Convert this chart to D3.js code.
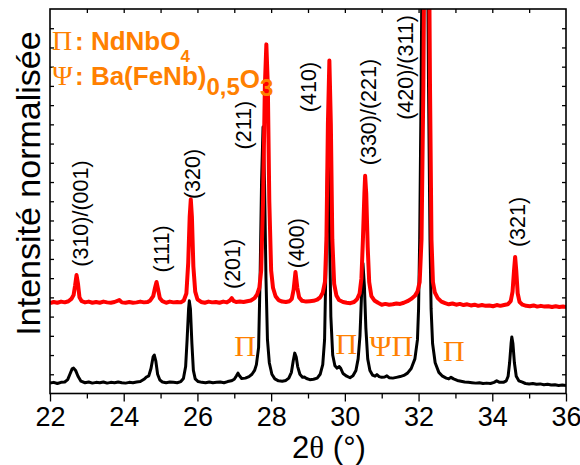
<!DOCTYPE html>
<html><head><meta charset="utf-8">
<script src="https://cdn.jsdelivr.net/npm/d3@7/dist/d3.min.js"></script>
<style>body{margin:0;background:#fff;} svg{display:block;}</style>
</head><body>
<svg id="chart" width="580" height="465"></svg>
<script>
// ---- data (2θ in degrees, normalised intensity incl. vertical offset) ----
const blackPattern = [
[22.00,2.7],[22.10,2.9],[22.20,2.6],[22.30,2.9],[22.40,3.0],[22.48,3.6],[22.54,5.0],[22.60,6.4],[22.64,6.6],[22.70,5.9],[22.76,4.5],[22.84,3.2],[22.95,2.8],
[23.05,3.0],[23.15,2.7],[23.25,2.9],[23.35,2.8],[23.45,3.0],[23.55,2.7],[23.65,2.9],[23.75,2.8],[23.85,3.0],[23.95,2.8],[24.05,2.7],[24.15,2.9],[24.25,2.8],[24.35,3.0],[24.45,3.1],
[24.55,3.7],[24.62,4.3],[24.68,4.6],[24.74,6.5],[24.80,9.6],[24.83,10.0],[24.87,8.5],[24.92,5.0],[24.98,3.5],[25.05,3.0],[25.15,2.8],[25.25,3.0],[25.35,2.9],[25.45,2.8],[25.55,3.1],
[25.62,3.9],[25.68,7.0],[25.72,14.0],[25.76,22.0],[25.78,24.1],[25.81,22.0],[25.85,13.0],[25.89,6.0],[25.94,3.8],[26.02,3.1],[26.12,2.9],[26.22,2.8],[26.32,3.0],[26.42,2.8],[26.52,2.9],
[26.62,3.0],[26.72,2.8],[26.82,3.1],[26.92,3.3],[27.00,3.7],[27.06,4.6],[27.10,5.3],[27.14,4.6],[27.20,3.9],[27.30,4.0],[27.40,4.4],[27.48,5.0],[27.55,6.0],
[27.60,7.5],[27.66,12],[27.70,30],[27.74,55],[27.78,69.3],[27.82,55],[27.86,30],[27.90,14],[27.95,8],[28.02,5.0],[28.10,3.8],[28.20,3.3],[28.30,3.2],[28.40,3.4],
[28.48,4.0],[28.55,5.5],[28.60,8.5],[28.64,10.5],[28.68,9.5],[28.72,7.0],[28.78,5.0],[28.85,4.2],[28.90,4.3],[28.96,3.9],[29.05,3.6],[29.15,3.7],[29.25,4.0],[29.33,5.0],
[29.40,7.5],[29.45,14],[29.50,40],[29.54,65.9],[29.58,45],[29.62,20],[29.67,10],[29.73,7.2],[29.79,6.6],[29.85,7.0],[29.89,6.5],[29.95,5.2],[30.05,4.5],[30.14,4.1],
[30.22,4.6],[30.30,6.0],[30.36,9.0],[30.41,15],[30.45,25],[30.49,33.9],[30.53,28],[30.57,17],[30.62,9],[30.68,6.0],[30.75,4.8],[30.82,4.5],[30.87,4.9],[30.93,4.4],
[31.00,4.2],[31.08,4.3],[31.14,4.6],[31.20,4.1],[31.30,4.0],[31.40,4.2],[31.50,4.4],[31.60,4.7],[31.70,5.3],[31.80,6.5],[31.90,9.0],[31.97,14],[32.00,22],[32.03,40],
[32.07,80],[32.12,150],[32.17,200],[32.22,150],[32.27,80],[32.31,40],[32.34,22],[32.38,13],[32.45,8],[32.55,5.5],[32.65,4.5],[32.75,4.0],[32.82,3.8],[32.88,4.2],
[32.95,3.8],[33.05,3.4],[33.15,3.2],[33.25,3.0],[33.35,2.9],[33.45,2.8],[33.55,2.7],[33.65,2.8],[33.75,2.6],[33.85,2.7],[33.95,2.6],[34.05,2.9],[34.12,3.3],[34.20,2.9],
[34.30,2.9],[34.38,3.3],[34.43,4.5],[34.47,8],[34.51,13],[34.53,14.7],[34.56,13],[34.60,8],[34.65,4.5],[34.72,3.3],[34.80,3.0],[34.90,2.6],[35.00,2.5],[35.10,2.6],
[35.20,2.4],[35.30,2.5],[35.40,2.3],[35.50,2.4],[35.60,2.2],[35.70,2.3],[35.80,2.1],[35.90,2.2],[36.00,2.1]
];
const redPattern = [
[22.00,23.5],[22.10,23.8],[22.20,23.6],[22.30,23.9],[22.40,23.7],[22.50,24.0],[22.58,24.6],[22.64,25.6],[22.68,28.0],[22.72,30.8],[22.76,28.5],[22.80,25.0],[22.86,24.0],
[22.95,23.7],[23.05,23.9],[23.15,23.6],[23.25,23.8],[23.35,23.6],[23.45,23.9],[23.55,23.7],[23.65,23.6],[23.75,23.8],[23.88,24.3],[23.95,23.7],[24.05,23.6],[24.15,23.8],
[24.25,23.6],[24.35,23.7],[24.45,23.9],[24.55,23.7],[24.65,23.8],[24.72,24.2],[24.80,25.3],[24.85,27.5],[24.89,29.0],[24.93,27.2],[24.98,24.8],[25.05,24.0],[25.15,23.6],
[25.25,23.9],[25.35,23.7],[25.45,23.8],[25.55,23.7],[25.63,24.2],[25.70,26],[25.75,34],[25.79,46],[25.82,50.5],[25.85,46],[25.89,33],[25.94,26.5],[26.00,24.5],[26.10,23.8],
[26.20,23.6],[26.30,23.9],[26.40,23.7],[26.50,23.8],[26.60,23.6],[26.70,23.9],[26.80,23.7],[26.88,24.2],[26.93,24.8],[26.98,24.1],[27.05,23.8],[27.15,23.9],[27.25,23.8],
[27.35,24.0],[27.45,24.2],[27.55,24.8],[27.62,25.8],[27.68,27.5],[27.73,32],[27.78,50],[27.83,80],[27.87,90.8],[27.91,80],[27.95,50],[28.00,32],[28.05,27.5],[28.12,25.3],
[28.20,24.3],[28.30,23.9],[28.40,23.8],[28.50,24.0],[28.56,24.6],[28.61,27],[28.66,31.6],[28.71,27.5],[28.76,25],[28.84,24.1],[28.95,23.9],[29.05,24.0],[29.15,24.1],
[29.25,24.4],[29.33,25.0],[29.40,26.2],[29.46,29],[29.50,40],[29.54,70],[29.58,86.6],[29.62,70],[29.66,40],[29.71,28.5],[29.77,25.5],[29.84,24.3],[29.95,23.8],[30.05,23.6],
[30.15,23.5],[30.25,23.8],[30.33,24.5],[30.40,26],[30.45,30],[30.49,40],[30.53,52],[30.55,56.6],[30.58,52],[30.62,38],[30.66,29],[30.72,25.3],[30.80,24.2],[30.90,23.6],
[31.00,23.1],[31.10,23.3],[31.20,23.1],[31.30,23.2],[31.40,23.4],[31.50,23.3],[31.60,23.6],[31.70,24.0],[31.80,24.6],[31.90,25.4],[31.97,26.5],[32.03,29],[32.08,40],
[32.13,80],[32.18,150],[32.22,200],[32.26,150],[32.31,80],[32.35,40],[32.39,29],[32.44,26.3],[32.52,24.8],[32.62,23.9],[32.72,23.5],[32.82,23.2],[32.92,23.4],[33.02,23.1],
[33.12,23.3],[33.22,23.0],[33.32,23.2],[33.42,22.9],[33.52,23.1],[33.62,22.8],[33.72,23.0],[33.82,22.8],[33.92,22.9],[34.02,22.7],[34.12,23.0],[34.22,22.8],[34.32,23.0],
[34.42,23.2],[34.50,24.0],[34.55,26.5],[34.59,32],[34.62,35.5],[34.65,32],[34.69,26],[34.74,23.8],[34.82,23.1],[34.92,22.8],[35.02,22.7],[35.12,22.9],[35.22,22.6],
[35.32,22.8],[35.42,22.6],[35.52,22.7],[35.62,22.5],[35.72,22.7],[35.82,22.5],[35.92,22.6],[36.00,22.5]
];
const xTickValues = [22,24,26,28,30,32,34,36];
const xMinorTicks = [23,25,27,29,31,33,35];
const peakLabelText = ["(310)/(001)","(111)","(320)","(201)","(211)","(400)","(410)","(330)/(221)","(420)/(311)","(321)"];
const peakLabelAt   = [[22.84,46.8],[25.03,37.6],[25.88,57.1],[26.96,33.7],[27.26,69.8],[28.69,39.1],[29.04,79.7],[30.66,73.2],[31.66,84.8],[34.70,44.6]];
const phaseMarkText = ["Π","Π","Ψ","Π","Π"];
const phaseMarkAt   = [[27.29,12.6],[30.04,12.9],[30.97,12.4],[31.56,12.4],[32.96,11.1]];

// ---- drawing ----
const svg = d3.select("#chart");
const L=50, R=566, T=9, B=393.5;
const x = d3.scaleLinear().domain([22,36]).range([L,R]);
const y = d3.scaleLinear().domain([0,100]).range([B,T]);
const orange = "#FF8000";
const sans = "Arial, 'Liberation Sans', sans-serif";
const serif = "'Times New Roman', 'Liberation Serif', serif";

svg.append("defs").append("clipPath").attr("id","plotclip")
  .append("rect").attr("x",L).attr("y",T).attr("width",R-L).attr("height",B-T);

const line = d3.line().x(d=>x(d[0])).y(d=>y(d[1]));
const g = svg.append("g").attr("clip-path","url(#plotclip)");
g.append("path").datum(blackPattern).attr("d",line).attr("fill","none")
  .attr("stroke","#000").attr("stroke-width",3).attr("stroke-linejoin","round");
g.append("path").datum(redPattern).attr("d",line).attr("fill","none")
  .attr("stroke","#FF0000").attr("stroke-width",4).attr("stroke-linejoin","round");

// axes
function styleAxis(sel){ sel.select(".domain").remove(); sel.selectAll("line").attr("stroke","#000").attr("stroke-width",1.3); }
const bMaj = svg.append("g").attr("transform",`translate(0,${B})`)
  .call(d3.axisBottom(x).tickValues(xTickValues).tickSize(8).tickPadding(5).tickFormat(d3.format("d")));
styleAxis(bMaj);
bMaj.selectAll("text").attr("font-family",sans).attr("font-size",27).attr("fill","#000");
const bMin = svg.append("g").attr("transform",`translate(0,${B})`)
  .call(d3.axisBottom(x).tickValues(xMinorTicks).tickSize(5).tickFormat(""));
styleAxis(bMin);
const tAx = svg.append("g").attr("transform",`translate(0,${T})`)
  .call(d3.axisBottom(x).tickValues(d3.range(23,36)).tickSize(4).tickFormat(""));
styleAxis(tAx);
const yTicks = d3.range(5,100,5);
const lAx = svg.append("g").attr("transform",`translate(${L},0)`)
  .call(d3.axisRight(y).tickValues(yTicks).tickSize(4).tickFormat(""));
styleAxis(lAx);
const rAx = svg.append("g").attr("transform",`translate(${R},0)`)
  .call(d3.axisLeft(y).tickValues(yTicks).tickSize(4).tickFormat(""));
styleAxis(rAx);

svg.append("rect").attr("x",L).attr("y",T).attr("width",R-L).attr("height",B-T)
  .attr("fill","none").attr("stroke","#000").attr("stroke-width",1.6);

// axis titles
const xt = svg.append("text").attr("x",329).attr("y",458).attr("text-anchor","middle")
  .attr("font-family",sans).attr("font-size",31).attr("fill","#000");
xt.append("tspan").text("2");
xt.append("tspan").attr("font-family",serif).text("θ");
xt.append("tspan").text(" (°)");
svg.append("text").attr("transform","translate(40,183.5) rotate(-90)").attr("text-anchor","middle")
  .attr("font-family",sans).attr("font-size",34).attr("fill","#000").text("Intensité normalisée");

// peak labels
svg.append("g").selectAll("text").data(peakLabelText).join("text")
  .attr("transform",(d,i)=>`translate(${x(peakLabelAt[i][0])},${y(peakLabelAt[i][1])}) rotate(-90)`)
  .attr("text-anchor","middle").attr("dominant-baseline","central")
  .attr("font-family",sans).attr("font-size",21.5).attr("fill","#000").text(d=>d);

// phase markers
svg.append("g").selectAll("text").data(phaseMarkText).join("text")
  .attr("x",(d,i)=>x(phaseMarkAt[i][0])).attr("y",(d,i)=>y(phaseMarkAt[i][1]))
  .attr("text-anchor","middle").attr("dominant-baseline","central")
  .attr("font-family",serif).attr("font-size",30).attr("fill",orange).text(d=>d);

// legend
const lg = svg.append("g").attr("fill",orange);
lg.append("text").attr("x",52).attr("y",50).attr("font-family",serif).attr("font-size",28).text("Π");
const l1 = lg.append("text").attr("x",75).attr("y",50).attr("font-family",sans).attr("font-weight","bold").attr("font-size",26);
l1.append("tspan").text(": NdNbO");
l1.append("tspan").attr("font-size",17).attr("dy",12).text("4");
lg.append("text").attr("x",52).attr("y",85).attr("font-family",serif).attr("font-size",28).text("Ψ");
const l2 = lg.append("text").attr("x",75).attr("y",85).attr("font-family",sans).attr("font-weight","bold").attr("font-size",26);
l2.append("tspan").text(": Ba(FeNb)");
l2.append("tspan").attr("font-size",24).attr("dy",10).text("0,5");
l2.append("tspan").attr("font-size",26).attr("dy",-7).text("O");
l2.append("tspan").attr("font-size",24).attr("dy",8).text("3");
</script>
</body></html>
